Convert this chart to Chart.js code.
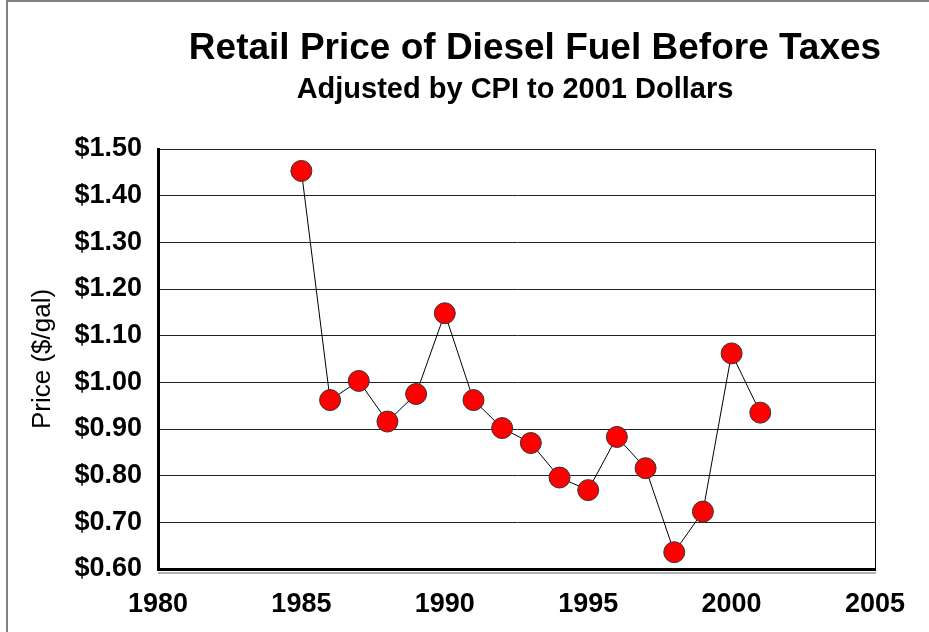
<!DOCTYPE html>
<html>
<head>
<meta charset="utf-8">
<script src="https://cdn.jsdelivr.net/npm/chart.js@4.4.1/dist/chart.umd.min.js"></script>
<style>
  html, body { margin: 0; padding: 0; background: #fff; }
  #wrap { width: 929px; height: 632px; position: relative; }
</style>
</head>
<body>
<div id="wrap"><canvas id="myChart" width="929" height="632"></canvas></div>
<script>
// data
let years = [1985, 1986, 1987, 1988, 1989, 1990, 1991, 1992, 1993, 1994, 1995, 1996, 1997, 1998, 1999, 2000, 2001];
let prices = [1.453, 0.962, 1.003, 0.916, 0.975, 1.148, 0.962, 0.902, 0.870, 0.796, 0.769, 0.883, 0.816, 0.636, 0.723, 1.062, 0.935];
let titleText = "Retail Price of Diesel Fuel Before Taxes";
let subtitleText = "Adjusted by CPI to 2001 Dollars";
let yAxisTitle = "Price ($/gal)";

let points = [];
for (let i = 0; i < years.length; i++) {
    points.push({ x: years[i], y: prices[i] });
}

const fontFamily = "'Liberation Sans', Arial, sans-serif";

// titles, frame, plot border and axis shadow
const decor = {
    id: 'decor',
    beforeDraw(chart) {
        const c = chart.ctx;
        const a = chart.chartArea;
        c.save();
        c.strokeStyle = '#808080';
        c.lineWidth = 2;
        c.beginPath();
        c.moveTo(7, 632);
        c.lineTo(7, 1);
        c.lineTo(929, 1);
        c.stroke();
        // plot frame top and right
        c.strokeStyle = '#000';
        c.lineWidth = 1;
        c.beginPath();
        c.moveTo(a.left, a.top + 0.5);
        c.lineTo(a.right + 0.5, a.top + 0.5);
        c.lineTo(a.right + 0.5, a.bottom);
        c.stroke();
        // gray shadow under x axis
        c.strokeStyle = '#b0b0b0';
        c.lineWidth = 2;
        c.beginPath();
        c.moveTo(a.left, a.bottom + 4);
        c.lineTo(a.right + 1, a.bottom + 4);
        c.stroke();
        c.restore();
    },
    afterDraw(chart) {
        const c = chart.ctx;
        c.save();
        c.fillStyle = '#000';
        c.textAlign = 'center';
        c.textBaseline = 'alphabetic';
        c.font = "bold 37px " + fontFamily;
        c.fillText(titleText, 535, 59);
        c.font = "bold 29px " + fontFamily;
        c.fillText(subtitleText, 515, 98);
        c.restore();
    }
};

var ctx = document.getElementById('myChart').getContext('2d');
var myChart = new Chart(ctx, {
    type: 'line',
    data: {
        datasets: [{
            label: 'price',
            data: points,
            borderColor: '#000',
            borderWidth: 1,
            pointRadius: 10.5,
            pointHoverRadius: 10.5,
            pointBackgroundColor: '#ff0000',
            pointBorderColor: '#333',
            pointBorderWidth: 1,
            tension: 0,
            fill: false
        }]
    },
    plugins: [decor],
    options: {
        responsive: false,
        animation: false,
        layout: {
            padding: { top: 149, right: 54, bottom: 0, left: 0 }
        },
        plugins: {
            legend: { display: false },
            title: { display: false },
            tooltip: { enabled: false }
        },
        scales: {
            x: {
                type: 'linear',
                min: 1980,
                max: 2005,
                afterFit: function (scale) { scale.height = 63; },
                grid: { display: false, drawTicks: false },
                border: { display: true, color: '#000', width: 3 },
                ticks: {
                    stepSize: 5,
                    padding: 19,
                    color: '#000',
                    font: { family: fontFamily, size: 27, weight: 'bold' },
                    callback: function (v) { return String(v); }
                }
            },
            y: {
                min: 0.6,
                max: 1.5,
                afterFit: function (scale) { scale.width = 158; },
                grid: { color: '#222', lineWidth: 1, drawTicks: false },
                border: { display: true, color: '#000', width: 3 },
                title: {
                    display: true,
                    text: yAxisTitle,
                    color: '#000',
                    padding: { top: 27, bottom: 0 },
                    font: { family: fontFamily, size: 26, weight: 'normal' }
                },
                ticks: {
                    stepSize: 0.1,
                    padding: 16,
                    color: '#000',
                    font: { family: fontFamily, size: 27, weight: 'bold' },
                    callback: function (v) { return '$' + Number(v).toFixed(2); }
                }
            }
        }
    }
});
</script>
</body>
</html>
